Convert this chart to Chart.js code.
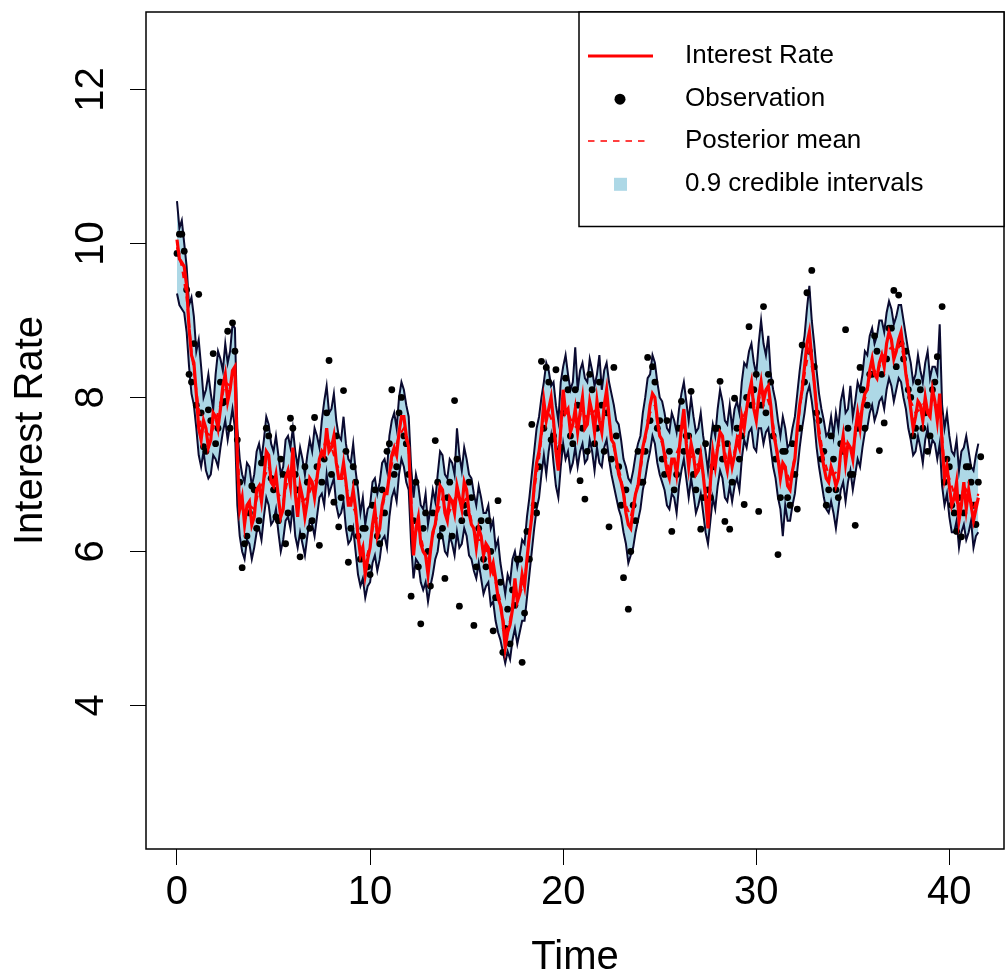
<!DOCTYPE html>
<html><head><meta charset="utf-8">
<script src="https://cdn.jsdelivr.net/npm/chart.js@4.4.1/dist/chart.umd.min.js"></script>
<style>html,body{margin:0;padding:0;background:#fff;overflow:hidden}#wrap{width:1005px;height:976px;position:relative}canvas{display:block}</style>
</head><body><div id="wrap"><canvas id="c" width="1005" height="976"></canvas></div>
<script>
// sampling of each series (time units)
const rateStart = 0, rateStep = 0.125;
const bandStart = 0, bandStep = 0.125;
const meanStart = 0, meanStep = 0.25;
const obsStart = 0, obsStep = 0.125;

const interestRate = [
10.05,9.8, 9.75,9.7, 9.45,8.9, 8.55,8.45, 8.05,7.6,
7.45,7.7, 7.6,7.35, 7.45,7.8, 7.75,7.6, 7.85,8.15,
8.3,7.95, 8.1,8.35, 8.4,7.2, 6.55,6.7, 6.35,6.6,
6.65,6.35, 6.45,6.8, 6.85,6.65, 6.95,7.3, 7.25,6.9,
6.85,7.0, 6.7,6.45, 6.55,6.95, 7.05,6.85, 7.35,6.75,
6.45,6.85, 6.7,6.45, 6.65,6.95, 6.9,6.7, 6.95,7.2,
7.3,7.25, 7.6,7.3, 7.35,7.5, 7.15,6.95, 6.95,7.15,
6.9,6.6, 6.6,6.8, 6.55,6.2, 5.95,6.05, 5.7,5.9,
6.05,6.35, 6.55,6.2, 6.3,6.6, 6.75,6.75, 7.0,7.25,
7.35,7.25, 7.55,7.75, 7.75,7.5, 7.35,6.6, 5.95,6.3,
6.45,6.1, 6.0,5.95, 5.7,6.0, 6.25,6.35, 6.6,6.85,
6.8,6.5, 6.4,6.7, 6.65,6.5, 6.85,6.7, 6.55,6.9,
6.8,6.5, 6.35,6.3, 6.05,6.3, 6.2,5.95, 6.1,6.05,
5.75,5.85, 5.65,5.4, 5.3,5.1, 4.75,4.95, 5.05,5.25,
5.65,5.35, 5.45,5.7, 5.55,5.9, 6.2,6.45, 6.85,7.15,
7.3,7.55, 7.95,7.7, 7.85,8.0, 7.7,7.3, 7.05,7.6,
8.1,7.8, 7.85,7.55, 7.65,7.85, 7.55,7.8, 8.0,7.6,
7.65,7.95, 7.8,7.55, 7.95,7.7, 7.55,7.9, 8.1,7.75,
7.45,7.4, 7.2,7.0, 6.9,6.75, 6.5,6.35, 6.3,6.55,
6.75,6.85, 7.1,7.35, 7.5,7.65, 7.9,8.05, 8.0,7.7,
7.5,7.45, 7.25,7.05, 6.95,7.2, 7.2,7.0, 7.3,7.6,
7.85,7.4, 7.1,7.4, 7.25,7.0, 7.05,7.25, 7.0,6.7,
6.3,6.9, 7.3,7.1, 7.35,7.55, 7.5,7.2, 7.05,7.3,
7.1,7.25, 7.45,7.35, 7.75,7.6, 7.85,8.05, 8.2,7.85,
7.7,8.0, 8.2,7.95, 8.1,8.15, 7.9,7.55, 7.4,7.2,
6.95,7.15, 7.1,6.85, 6.8,7.05, 7.2,7.6, 7.9,8.1,
8.4,8.7, 8.85,8.5, 8.2,7.85, 7.5,7.3, 7.1,6.95,
6.9,7.1, 7.0,6.85, 6.95,7.3, 7.5,7.15, 7.4,7.35,
7.2,7.55, 7.8,7.6, 7.9,8.05, 8.1,8.35, 8.5,8.3,
8.25,8.45, 8.55,8.4, 8.7,8.85, 8.75,8.5, 8.6,8.75,
8.85,8.6, 8.3,8.1, 7.85,7.6, 7.75,7.95, 7.9,7.7,
8.0,7.8, 7.75,8.1, 7.95,7.7, 8.05,7.4, 6.95,7.1,
6.85,6.6, 6.7,6.9, 6.4,6.6, 6.9,6.55, 6.8,6.6,
6.4,6.55, 6.7];

const posteriorMean = [
9.95,9.7,9.3,8.6,8.1,7.6,7.55,7.5,7.7,7.9,
8.2,8.15,8.2,6.7,6.45,6.6,6.55,6.8,6.95,7.1,
6.9,6.75,6.65,6.95,7.15,6.6,6.65,6.7,6.85,6.95,
7.25,7.5,7.35,7.15,7.0,6.85,6.65,6.5,6.05,5.85,
6.1,6.45,6.4,6.7,6.95,7.3,7.5,7.6,7.3,6.15,
6.35,6.05,5.85,6.2,6.5,6.7,6.45,6.6,6.75,6.6,
6.7,6.4,6.15,6.15,6.05,5.8,5.6,5.35,4.95,5.1,
5.5,5.45,5.6,6.2,6.8,7.2,7.75,7.8,7.65,7.2,
7.9,7.8,7.65,7.6,7.9,7.7,7.8,7.85,7.6,7.95,
7.5,7.2,6.95,6.6,6.45,6.75,7.05,7.45,7.8,7.9,
7.5,7.3,7.05,7.2,7.35,7.7,7.2,7.25,7.1,7.0,
6.6,7.2,7.35,7.45,7.15,7.15,7.45,7.7,7.85,8.1,
7.8,8.1,8.05,7.85,7.45,7.05,7.1,6.9,7.25,7.85,
8.3,8.65,8.2,7.6,7.2,7.0,7.0,7.05,7.4,7.4,
7.3,7.7,7.85,8.1,8.4,8.3,8.5,8.6,8.65,8.6,
8.7,8.35,7.95,7.8,7.85,7.95,7.8,7.9,7.9,7.1,
6.95,6.75,6.55,6.85,6.75,6.55,6.75];

const upper90 = [
10.55,10.2, 10.3,10.0, 9.7,9.2, 9.3,9.05, 8.6,8.75,
8.4,8.0, 8.1,8.3, 8.05,7.85, 8.3,8.6, 8.5,8.35,
8.7,8.45, 8.6,8.95, 8.9,7.6, 7.2,7.0, 6.9,7.15,
7.1,6.85, 7.0,7.3, 7.4,7.2, 7.45,7.75, 7.65,7.4,
7.3,7.5, 7.25,7.0, 7.1,7.45, 7.5,7.35, 7.6,7.3,
7.1,7.35, 7.2,7.0, 7.25,7.45, 7.3,7.6, 7.5,7.35,
7.7,7.95, 8.15,7.8, 7.85,8.05, 7.7,7.5, 7.45,7.75,
7.4,7.2, 7.15,7.4, 7.05,6.8, 6.5,6.7, 6.35,6.55,
6.6,6.9, 6.95,6.75, 6.9,7.15, 7.2,7.05, 7.5,7.7,
7.8,7.6, 8.0,8.2, 8.1,7.9, 7.75,7.1, 6.7,7.0,
6.85,6.6, 6.55,6.75, 6.35,6.55, 6.8,6.65, 7.0,7.3,
7.25,7.0, 6.95,7.2, 7.15,7.0, 7.6,7.25, 7.05,7.35,
7.2,7.0, 6.95,6.75, 6.6,6.85, 6.7,6.5, 6.5,6.6,
6.3,6.4, 6.05,6.15, 5.85,5.65, 5.45,5.7, 5.6,5.9,
6.0,5.8, 5.95,6.15, 6.1,6.45, 6.7,7.0, 7.3,7.6,
7.75,8.0, 8.2,8.45, 8.35,8.15, 8.2,7.9, 7.7,8.2,
8.4,8.55, 8.3,8.1, 8.2,8.65, 8.1,8.35, 8.45,8.25,
8.2,8.5, 8.35,8.15, 8.3,8.55, 8.1,8.35, 8.45,8.2,
8.05,7.9, 7.7,7.65, 7.45,7.2, 7.1,6.95, 6.9,7.05,
7.25,7.4, 7.5,7.8, 8.0,8.25, 8.3,8.55, 8.45,8.2,
8.0,7.95, 7.8,7.6, 7.55,7.8, 7.7,7.55, 7.85,8.05,
8.2,7.95, 7.7,8.0, 7.75,7.55, 7.6,7.8, 7.5,7.3,
7.05,7.4, 7.65,7.5, 7.85,8.1, 7.95,7.7, 7.65,7.9,
7.6,7.85, 7.95,7.8, 8.2,8.45, 8.4,8.6, 8.7,8.45,
8.3,8.7, 9.0,8.7, 8.55,8.8, 8.3,8.1, 7.95,7.7,
7.5,7.75, 7.6,7.35, 7.4,7.6, 7.75,8.05, 8.35,8.6,
8.8,9.15, 9.45,9.0, 8.7,8.35, 8.05,7.85, 7.7,7.5,
7.55,7.75, 7.5,7.8, 7.6,7.95, 8.1,7.8, 7.85,8.15,
7.75,7.95, 8.2,8.1, 8.3,8.6, 8.55,8.8, 8.9,8.7,
8.8,9.0, 9.0,8.85, 9.1,9.25, 9.15,8.95, 9.05,9.2,
9.2,9.0, 8.8,8.6, 8.45,8.2, 8.3,8.55, 8.35,8.2,
8.45,8.6, 8.25,8.4, 8.4,8.3, 8.95,7.9, 7.6,7.8,
7.5,7.3, 7.25,7.45, 7.05,7.3, 7.35,7.5, 7.3,7.1,
7.05,7.25, 7.4];

const lower90 = [
9.35,9.2, 9.15,9.1, 8.85,8.4, 8.05,7.9, 7.6,7.25,
7.1,7.3, 7.05,6.95, 7.0,7.25, 7.2,7.1, 7.35,7.55,
7.7,7.45, 7.65,7.85, 7.6,6.6, 6.2,6.0, 5.9,6.15,
6.1,5.9, 6.05,6.25, 6.3,6.15, 6.45,6.7, 6.6,6.35,
6.4,6.55, 6.25,6.0, 6.15,6.4, 6.45,6.3, 6.6,6.2,
6.05,6.25, 6.1,5.95, 6.2,6.4, 6.35,6.2, 6.45,6.7,
6.75,6.6, 7.0,6.75, 6.85,6.95, 6.6,6.45, 6.5,6.65,
6.3,6.1, 6.15,6.3, 6.0,5.7, 5.55,5.65, 5.4,5.55,
5.6,5.85, 5.95,5.75, 5.9,6.15, 6.2,6.05, 6.45,6.7,
6.8,6.65, 7.0,7.2, 7.1,6.9, 6.8,6.1, 5.65,5.9,
5.85,5.6, 5.5,5.6, 5.35,5.55, 5.7,5.9, 6.0,6.25,
6.2,6.0, 5.95,6.2, 6.1,5.95, 6.25,6.05, 6.1,6.3,
6.2,5.95, 5.9,5.75, 5.65,5.85, 5.65,5.45, 5.55,5.6,
5.3,5.35, 5.1,4.95, 4.85,4.7, 4.55,4.7, 4.6,4.85,
5.0,4.8, 4.95,5.1, 5.1,5.4, 5.7,6.0, 6.3,6.55,
6.7,7.0, 7.25,7.0, 7.3,7.5, 7.15,6.85, 6.7,7.1,
7.4,7.2, 7.3,7.05, 7.15,7.35, 7.1,7.3, 7.4,7.15,
7.2,7.45, 7.3,7.05, 7.35,7.15, 7.1,7.35, 7.45,7.2,
7.0,6.85, 6.7,6.55, 6.45,6.25, 6.1,5.85, 5.95,6.05,
6.25,6.4, 6.55,6.8, 6.95,7.15, 7.3,7.5, 7.4,7.15,
7.0,6.9, 6.8,6.6, 6.55,6.75, 6.7,6.5, 6.85,7.05,
7.2,6.95, 6.7,6.95, 6.75,6.5, 6.6,6.75, 6.5,6.25,
6.1,6.4, 6.7,6.55, 6.85,7.05, 6.95,6.7, 6.65,6.85,
6.65,6.85, 6.95,6.8, 7.2,7.45, 7.35,7.55, 7.6,7.35,
7.3,7.6, 7.6,7.4, 7.55,7.6, 7.35,7.1, 6.95,6.7,
6.55,6.2, 6.6,6.4, 6.4,6.6, 6.75,7.05, 7.35,7.6,
7.8,8.05, 8.15,7.95, 7.7,7.35, 7.1,6.9, 6.7,6.55,
6.5,6.65, 6.5,6.3, 6.55,6.8, 6.9,6.65, 6.9,7.05,
6.8,7.0, 7.2,7.1, 7.35,7.55, 7.6,7.8, 7.9,7.7,
7.8,7.95, 8.0,7.85, 8.1,8.25, 8.15,7.95, 8.1,8.25,
8.2,8.0, 7.85,7.6, 7.45,7.25, 7.3,7.5, 7.35,7.15,
7.45,7.6, 7.3,7.45, 7.4,7.2, 7.4,6.85, 6.6,6.75,
6.45,6.25, 6.25,6.4, 6.05,6.25, 6.35,6.15, 6.25,6.4,
6.05,6.2, 6.25];

const observations = [
9.87,10.12, 10.12,9.9, 9.4,8.3, 8.2,8.7, 7.9,9.34,
7.8,7.36, 7.3,7.84, 7.7,8.57, 7.4,7.6, 8.2,7.93,
7.95,8.86, 7.6,8.97, 8.6,7.45, 6.9,5.79, 6.1,6.2,
6.5,6.85, 6.8,6.3, 6.4,7.15, 7.2,7.6, 7.5,6.95,
6.8,6.45, 6.4,7.2, 7.0,6.1, 6.5,7.73, 7.6,7.0,
6.8,5.93, 6.2,7.1, 6.9,6.3, 6.4,7.74, 7.1,6.08,
6.9,7.2, 7.8,8.48, 7.0,6.64, 7.5,6.32, 6.7,8.09,
7.3,5.86, 6.3,7.1, 6.9,6.2, 5.9,6.3, 6.3,5.8,
5.7,6.6, 6.8,6.2, 6.1,6.8, 6.5,7.3, 7.4,8.1,
7.0,7.1, 7.8,8.0, 7.5,7.4, 7.0,5.42, 6.4,6.9,
5.8,5.06, 6.3,6.5, 6.0,5.55, 6.5,7.44, 6.9,6.2,
6.3,5.65, 6.7,6.9, 6.2,7.96, 7.2,5.29, 6.4,6.6,
6.5,6.9, 6.7,5.04, 5.8,6.3, 6.4,5.9, 5.8,6.4,
6.0,4.97, 5.4,6.66, 5.6,4.69, 5.0,5.25, 4.8,5.5,
5.3,5.9, 5.9,4.56, 5.2,6.26, 5.9,7.65, 6.6,6.5,
7.1,8.47, 7.6,8.39, 8.2,7.45, 7.5,8.36, 7.3,7.35,
7.8,8.25, 8.1,7.5, 7.4,8.1, 7.9,6.92, 7.6,6.68,
7.3,8.3, 8.1,7.4, 7.6,8.2, 7.9,7.3, 7.8,6.32,
7.2,8.39, 7.5,7.1, 6.6,5.66, 6.8,5.25, 6.0,6.6,
6.4,7.3, 6.9,6.9, 7.3,8.52, 7.7,8.4, 8.2,7.6,
7.7,7.2, 7.0,7.7, 7.3,6.26, 6.8,7.0, 7.6,7.95,
7.3,7.5, 7.5,8.08, 7.0,6.8, 7.3,6.29, 6.7,7.4,
6.8,6.7, 7.1,7.6, 7.6,8.21, 7.2,6.39, 7.4,6.29,
6.9,7.99, 7.6,7.2, 7.5,6.61, 8.0,8.92, 7.9,8.1,
8.3,6.52, 7.9,9.18, 7.8,8.3, 8.2,7.5, 7.2,5.96,
6.7,7.3, 7.3,6.7, 6.6,7.4, 7.0,6.55, 7.6,8.68,
8.2,9.36, 8.6,9.65, 8.4,7.8, 7.7,7.2, 7.3,6.6,
6.8,7.5, 7.2,6.8, 6.7,7.4, 7.3,8.88, 7.6,7.0,
7.0,6.34, 7.6,8.39, 8.1,7.6, 7.9,8.3, 8.3,8.8,
8.6,7.31, 8.3,7.67, 8.5,8.9, 8.9,9.39, 8.4,9.33,
8.7,8.5, 8.6,8.1, 8.0,7.5, 7.6,8.2, 8.1,7.6,
7.8,7.3, 7.5,8.1, 8.2,8.53, 7.8,9.18, 6.9,7.2,
7.1,6.6, 6.5,6.26, 6.7,6.19, 6.5,7.1, 7.1,6.9,
6.6,6.35, 6.9,7.23];

const xTicks = [0, 10, 20, 30, 40];
const yTicks = [4, 6, 8, 10, 12];
const legendLabels = ['Interest Rate', 'Observation', 'Posterior mean', '0.9 credible intervals'];
const xTitle = 'Time';
const yTitle = 'Interest Rate';

const FONT = "'Liberation Sans', Arial, Helvetica, sans-serif";
const series = (arr, start, step) => arr.map((v, i) => ({ x: start + i * step, y: v }));

const boxPlugin = {
  id: 'box',
  afterDatasetsDraw(chart) {
    const { ctx, chartArea: a } = chart;
    ctx.save();
    ctx.strokeStyle = '#000';
    ctx.lineWidth = 1.5;
    ctx.strokeRect(a.left, a.top, a.right - a.left, a.bottom - a.top);
    ctx.restore();
  }
};

const legendPlugin = {
  id: 'rlegend',
  afterDraw(chart) {
    const { ctx, chartArea: a } = chart;
    const L = 579, T = a.top, R = a.right, B = 226.5;
    ctx.save();
    ctx.fillStyle = '#fff';
    ctx.fillRect(L, T, R - L, B - T);
    ctx.strokeStyle = '#000';
    ctx.lineWidth = 1.5;
    ctx.strokeRect(L, T, R - L, B - T);
    const rows = [56, 99.2, 141, 184.3];
    ctx.strokeStyle = '#ff0000'; ctx.lineWidth = 3; ctx.setLineDash([]);
    ctx.beginPath(); ctx.moveTo(588, rows[0]); ctx.lineTo(653, rows[0]); ctx.stroke();
    ctx.fillStyle = '#000';
    ctx.beginPath(); ctx.arc(620, rows[1], 5.5, 0, Math.PI * 2); ctx.fill();
    ctx.strokeStyle = '#ff0000'; ctx.lineWidth = 1.3; ctx.setLineDash([6.5, 6]);
    ctx.beginPath(); ctx.moveTo(588, rows[2]); ctx.lineTo(650, rows[2]); ctx.stroke();
    ctx.setLineDash([]);
    ctx.fillStyle = '#add8e6';
    ctx.fillRect(614, rows[3] - 6.5, 13, 13);
    ctx.fillStyle = '#000';
    ctx.font = '26px ' + FONT;
    ctx.textBaseline = 'middle';
    ctx.textAlign = 'left';
    legendLabels.forEach((t, i) => ctx.fillText(t, 685, rows[i]));
    ctx.restore();
  }
};

new Chart(document.getElementById('c').getContext('2d'), {
  type: 'line',
  data: {
    datasets: [
      { label: 'Posterior mean', data: series(posteriorMean, meanStart, meanStep),
        borderColor: '#ff0000', borderWidth: 2.2, borderDash: [6.5, 6], pointRadius: 0, fill: false, tension: 0 },
      { label: 'Interest Rate', data: series(interestRate, rateStart, rateStep),
        borderColor: '#ff0000', borderWidth: 3.2, pointRadius: 0, fill: false, tension: 0 },
      { label: 'Observation', data: series(observations, obsStart, obsStep), showLine: false,
        pointRadius: 3.4, pointBackgroundColor: '#000', pointBorderWidth: 0, borderColor: '#000', fill: false },
      { label: 'lower', data: series(lower90, bandStart, bandStep),
        borderColor: '#0a0a30', borderWidth: 2, pointRadius: 0, fill: false, tension: 0 },
      { label: 'upper', data: series(upper90, bandStart, bandStep),
        borderColor: '#0a0a30', borderWidth: 2, pointRadius: 0, tension: 0,
        fill: { target: '-1' }, backgroundColor: '#add8e6' }
    ]
  },
  options: {
    responsive: false, animation: false, devicePixelRatio: 1,
    layout: { autoPadding: false, padding: { left: 0, top: 12, right: 1, bottom: 0 } },
    plugins: { legend: { display: false }, tooltip: { enabled: false } },
    scales: {
      x: {
        type: 'linear', min: -1.605, max: 42.83,
        afterBuildTicks: s => { s.ticks = xTicks.map(v => ({ value: v })); },
        afterFit: s => { s.height = 127; s.paddingLeft = 0; s.paddingRight = 0; },
        grid: { drawOnChartArea: false, drawTicks: true, tickLength: 16, color: '#000', tickWidth: 1 },
        border: { display: false },
        ticks: { font: { family: FONT, size: 40 }, color: '#000', padding: 4, maxRotation: 0, autoSkip: false },
        title: { display: true, text: xTitle, color: '#000', font: { family: FONT, size: 40, lineHeight: 0.9 }, padding: { top: 0, bottom: 0 } }
      },
      y: {
        type: 'linear', min: 2.136, max: 13.006,
        afterBuildTicks: s => { s.ticks = yTicks.map(v => ({ value: v })); },
        afterFit: s => { s.width = 146; s.paddingTop = 0; s.paddingBottom = 0; },
        grid: { drawOnChartArea: false, drawTicks: true, tickLength: 16, color: '#000', tickWidth: 1 },
        border: { display: false },
        ticks: { font: { family: FONT, size: 40 }, color: '#000', padding: 16, minRotation: 90, maxRotation: 90, crossAlign: 'center', autoSkip: false },
        title: { display: true, text: yTitle, color: '#000', font: { family: FONT, size: 40, lineHeight: 1 }, padding: { top: 10.5, bottom: 0 } }
      }
    }
  },
  plugins: [boxPlugin, legendPlugin]
});
</script>
</body></html>
